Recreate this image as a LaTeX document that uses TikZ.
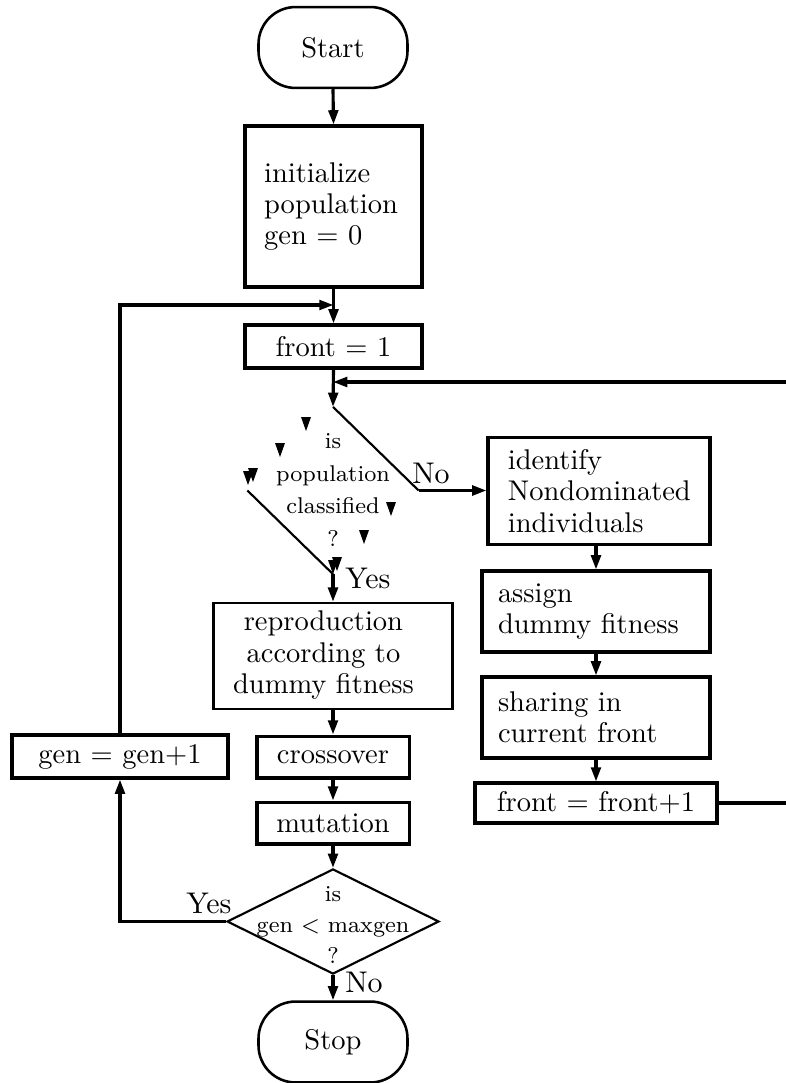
\documentclass[tikz,border=0pt]{standalone}
\usetikzlibrary{arrows.meta,shapes.geometric}
\begin{document}
\begin{tikzpicture}[x=0.351pt,y=-0.351pt,
  box/.style={draw, line width=1.1pt, rectangle, inner sep=0pt, font=\fontsize{10}{11}\selectfont},
  lbox/.style={box, align=left},
  term/.style={draw, line width=0.9pt, rectangle, rounded corners=13pt, minimum width=52.3pt, minimum height=28.4pt, inner sep=0pt, font=\fontsize{10}{11}\selectfont},
  flow/.style={line width=1.1pt, -{Triangle[length=5pt,width=3.4pt]}},
  dline/.style={line width=0.75pt},
  lbl/.style={inner sep=0pt, font=\fontsize{10.5}{11}\selectfont},
  dtext/.style={inner sep=0pt, align=center},
  tick/.style={fill=black}
]
\useasboundingbox (0,0) rectangle (786,1083);

% nodes
\node[term] (start) at (333,47.5) {Start};
\node[lbox, text width=48.7pt, inner xsep=6.7pt, minimum height=56.5pt] (init) at (333.5,206.5) {initialize\\population\\gen $=$ 0};
\node[box, minimum width=62.1pt, minimum height=15.1pt] (front1) at (333.5,346.5) {front $=$ 1};
\node[diamond, inner sep=0pt, minimum width=59.7pt, minimum height=58.3pt] (cls) at (333,490.5) {};
\node[dtext, font=\fontsize{8}{11.5}\selectfont] (clst) at (333,490) {is\\population\\classified\\?};
\node[box, line width=0.9pt, minimum width=83.9pt, minimum height=37.2pt] (repro) at (333,656)
  {\begin{tabular}{@{}c@{}}reproduction\\according to\\dummy fitness\end{tabular}\hspace*{6.7pt}};
\node[box, minimum width=53.4pt, minimum height=14.7pt] (cross) at (333,757) {crossover};
\node[box, minimum width=53.4pt, minimum height=14.7pt] (mut) at (333,823) {mutation};
\node[diamond, draw, line width=0.75pt, inner sep=0pt, minimum width=74.4pt, minimum height=36.9pt] (mg) at (333,921.5) {};
\node[dtext, font=\fontsize{8}{10.9}\selectfont] (mgt) at (333,925) {is\\gen $<$ maxgen\\?};
\node[term] (stop) at (333,1042) {Stop};
\node[box, minimum width=75.8pt, minimum height=15.1pt] (gen1) at (120,756.5) {gen $=$ gen$+$1};

\node[lbox, text width=63.9pt, inner xsep=7pt, minimum height=37.6pt] (ident) at (599,491) {identify\\Nondominated\\individuals};
\node[lbox, text width=68.8pt, inner xsep=5.6pt, minimum height=28.4pt] (assign) at (596,611.5) {assign\\dummy fitness};
\node[lbox, text width=68.8pt, inner xsep=5.6pt, minimum height=28.4pt] (share) at (596,717.5) {sharing in\\current front};
\node[box, minimum width=84.9pt, minimum height=14pt] (fp1) at (596,803) {front $=$ front$+$1};

% labels
\node[lbl] (no1) at (431,473) {No};
\node[lbl] (yes1) at (368,578) {Yes};
\node[lbl] (yes2) at (209,903) {Yes};
\node[lbl] (no2) at (364,982) {No};

% merge points
\coordinate (m1) at (333.5,305);
\coordinate (m2) at (333,382);
\coordinate (rc) at (800,382);

% connectors
\draw[flow] (start.south) -- (init.north);
\draw[flow] (init.south) -- (front1.north);
\draw[flow] (gen1.north) |- (m1);
\draw[flow] (front1.south) -- (cls.north);
\draw[flow] (fp1.east) -| (rc) -- (m2);

\draw[dline] (cls.north) -- (cls.east);
\draw[dline] (cls.west) -- (cls.south);
\foreach \a/\b in {306/424, 280/450, 248/478, 253/475, 391/509, 364/537, 337/564, 333/567}
  \fill[tick] ({\a-5},{\b-7}) -- ({\a+5},{\b-7}) -- (\a,{\b+7}) -- cycle;

\draw[flow] (cls.east) -- (cls.east -| ident.west);
\draw[flow] (cls.south) -- (repro.north);
\draw[flow] (repro.south) -- (cross.north);
\draw[flow] (cross.south) -- (mut.north);
\draw[flow] (mut.south) -- (mg.north);
\draw[flow] (mg.west) -| (gen1.south);
\draw[flow] (mg.south) -- (stop.north);

\draw[flow] (assign.north |- ident.south) -- (assign.north);
\draw[flow] (assign.south) -- (share.north);
\draw[flow] (share.south) -- (fp1.north);
\end{tikzpicture}
\end{document}
